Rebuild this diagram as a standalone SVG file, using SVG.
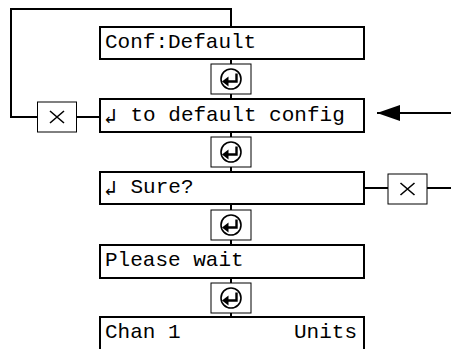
<svg xmlns="http://www.w3.org/2000/svg" xmlns:xlink="http://www.w3.org/1999/xlink" width="451" height="349" viewBox="0 0 451 349">
<style>
.box{fill:#fff;stroke:#000;stroke-width:2}
.key{fill:#fff;stroke:#000;stroke-width:1}
.ln{fill:none;stroke:#000;stroke-width:2}
.t{font-family:"Liberation Mono","Courier New",monospace;font-size:21px;fill:#000}
.g{font-family:"DejaVu Sans Mono","DejaVu Sans",monospace;font-size:21px;fill:#000}
.x{fill:none;stroke:#000;stroke-width:1.6}
</style>
<defs>
<g id="enter">
<rect class="key" x="-20" y="-15" width="40" height="30"/>
<circle cx="0" cy="0" r="10" fill="none" stroke="#000" stroke-width="1.6"/>
<path d="M-3,2.5 H5.5 V-5.5" fill="none" stroke="#000" stroke-width="2.4"/>
<path d="M-9,2.5 L-2.5,-2.5 L-2.5,7.5 Z" fill="#000"/>
</g>
<g id="cancel">
<rect class="key" x="-19.5" y="-15" width="39" height="30"/>
<path class="x" d="M-7,-6 L7,6 M7,-6 L-7,6"/>
</g>
<marker id="ah" markerWidth="24" markerHeight="16" refX="23" refY="8" orient="auto" markerUnits="userSpaceOnUse">
<path d="M0,0 L23,8 L0,16 Z" fill="#000"/>
</marker>
</defs>
<g id="connectors">
<path class="ln" d="M231,27 V9 H11 V117 H37"/>
<path class="ln" d="M76,117 H100"/>
<path class="ln" d="M231,59 V317"/>
<path class="ln" d="M451,113 H377" marker-end="url(#ah)"/>
<path class="ln" d="M364,188 H388 M427,188 H451"/>
</g>
<g id="n1"><rect class="box" x="100" y="27" width="264" height="32"/><text class="t" x="105" y="48">Conf:Default</text></g>
<g id="k1"><use xlink:href="#enter" x="231" y="79"/></g>
<g id="n2"><rect class="box" x="100" y="99" width="264" height="33"/><text class="g" x="104" y="123">↲</text><text class="t" x="130.5" y="121">to default config</text></g>
<g id="c1"><use xlink:href="#cancel" x="57" y="117"/></g>
<g id="k2"><use xlink:href="#enter" x="231" y="152"/></g>
<g id="n3"><rect class="box" x="100" y="172" width="264" height="32"/><text class="g" x="104" y="195">↲</text><text class="t" x="130.5" y="193">Sure?</text></g>
<g id="c2"><use xlink:href="#cancel" x="407.5" y="189"/></g>
<g id="k3"><use xlink:href="#enter" x="231" y="225"/></g>
<g id="n4"><rect class="box" x="100" y="245" width="264" height="33"/><text class="t" x="105" y="266">Please wait</text></g>
<g id="k4"><use xlink:href="#enter" x="231" y="298"/></g>
<g id="n5"><rect class="box" x="100" y="317" width="264" height="40"/><text class="t" x="105" y="338">Chan 1</text><text class="t" x="294" y="338">Units</text></g>
</svg>
